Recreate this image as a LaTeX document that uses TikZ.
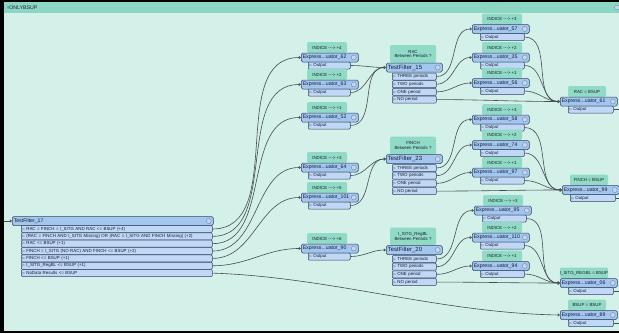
\documentclass[tikz,border=0pt]{standalone}
\usepackage{fontspec}
\setmainfont{Liberation Sans}
\newfontfamily\symfont{DejaVu Sans}
\usetikzlibrary{arrows.meta}
\definecolor{bgmint}{RGB}{211,240,233}
\definecolor{barteal}{RGB}{140,215,196}
\definecolor{annteal}{RGB}{145,218,198}
\definecolor{nodeblue}{RGB}{163,198,238}
\definecolor{portblue}{RGB}{192,216,245}
\definecolor{nodeline}{RGB}{50,68,100}
\definecolor{wiregray}{RGB}{70,76,82}
\definecolor{textdark}{RGB}{25,30,50}
\newcommand{\portmark}{{\symfont\fontsize{3.4}{4}\selectfont ▷}}
\newcommand{\hdrtext}{\fontsize{5.2}{5.5}\selectfont}
\newcommand{\tftext}{\fontsize{6}{6.5}\selectfont}
\newcommand{\smalltext}{\fontsize{4.4}{4.8}\selectfont}
\tikzset{
  ann/.style={fill=annteal, rounded corners=2pt, inner sep=0pt, align=center,
    font=\smalltext, text=textdark},
  hdr/.style={draw=nodeline, fill=nodeblue, rounded corners=1.5pt, anchor=west,
    minimum height=9pt, inner xsep=1.5pt, inner ysep=0pt, align=left,
    font=\hdrtext, text=textdark, line width=0.5pt,
    path picture={\draw[nodeline!70, fill=portblue, line width=0.3pt]
      ([xshift=-4.5pt]path picture bounding box.east) circle (2.5pt);}},
  port/.style={draw=nodeline, fill=portblue, rounded corners=1pt, anchor=west,
    minimum height=7pt, inner xsep=1pt, inner ysep=0pt, align=left,
    font=\smalltext, text=textdark, line width=0.5pt},
  wire/.style={draw=wiregray, line width=0.6pt,
    -{Triangle[open, length=2.2pt, width=3.2pt, fill=portblue]}}
}
\begin{document}
\begin{tikzpicture}[x=1pt,y=-1pt]
\useasboundingbox (0,0) rectangle (619,333);
% draw the frame and the bookmark
\fill[black] (0,0) rectangle (619,333);
\fill[bgmint] (4,2) rectangle (619,331);
\fill[barteal] (4,2) rectangle (619,13);
\node[anchor=west, inner sep=0pt, font=\hdrtext, text=textdark] (title) at (7,7.5) {{\symfont\smalltext ▿}ONLYBSUP};
\draw[nodeline!70, fill=portblue, line width=0.3pt] (617,7.5) circle (2.5pt);

% the first test filter
\node[hdr, text width=198pt] (tf17) at (12,221) {TestFilter\_17};
\node[port, text width=189pt] (tf17r1) at (21,229) {\portmark\ RAC = FINCH = I\_SITG AND RAC <= BSUP (+4)};
\node[port, text width=189pt] (tf17r2) at (21,236.35) {\portmark\ (RAC = FINCH AND I\_SITG Missing) OR (RAC = I\_SITG AND FINCH Missing) (+2)};
\node[port, text width=189pt] (tf17r3) at (21,243.7) {\portmark\ RAC <= BSUP (+1)};
\node[port, text width=189pt] (tf17r4) at (21,251.05) {\portmark\ FINCH = I\_SITG (NO RAC) AND FINCH <= BSUP (+2)};
\node[port, text width=189pt] (tf17r5) at (21,258.4) {\portmark\ FINCH <= BSUP (+1)};
\node[port, text width=189pt] (tf17r6) at (21,265.75) {\portmark\ I\_SITG\_RegBL <= BSUP (+1)};
\node[port, text width=189pt] (tf17r7) at (21,273.1) {\portmark\ NoData Results <= BSUP};

% first column of expressors
\node[ann, minimum width=40pt, minimum height=11pt] (e62a) at (327,47.5) {INDICE -{}-{}-> +4};
\node[hdr, text width=54pt] (e62) at (301,57.5) {Express...uator\_62};
\node[port, text width=40pt] (e62o) at (308,65.5) {\portmark\ Output};
\node[ann, minimum width=40pt, minimum height=11pt] (e63a) at (327,74.5) {INDICE -{}-{}-> +2};
\node[hdr, text width=54pt] (e63) at (301,84.5) {Express...uator\_63};
\node[port, text width=40pt] (e63o) at (308,92.5) {\portmark\ Output};
\node[ann, minimum width=40pt, minimum height=11pt] (e52a) at (327,107.5) {INDICE -{}-{}-> +1};
\node[hdr, text width=54pt] (e52) at (301,117.5) {Express...uator\_52};
\node[port, text width=40pt] (e52o) at (308,125.5) {\portmark\ Output};
\node[ann, minimum width=40pt, minimum height=11pt] (e64a) at (327,157.5) {INDICE -{}-{}-> +3};
\node[hdr, text width=54pt] (e64) at (301,167.5) {Express...uator\_64};
\node[port, text width=40pt] (e64o) at (308,175.5) {\portmark\ Output};
\node[ann, minimum width=40pt, minimum height=11pt] (e101a) at (327,187.5) {INDICE -{}-{}-> +5};
\node[hdr, text width=54pt] (e101) at (301,197.5) {Express...uator\_101};
\node[port, text width=40pt] (e101o) at (308,205.5) {\portmark\ Output};
\node[ann, minimum width=40pt, minimum height=11pt] (e90a) at (327,238.5) {INDICE -{}-{}-> +6};
\node[hdr, text width=54pt] (e90) at (301,248.5) {Express...uator\_90};
\node[port, text width=40pt] (e90o) at (308,256.5) {\portmark\ Output};

% the period test filters
\node[ann, minimum width=46pt, minimum height=18pt] (tf15a) at (413,54) {RAC\\Between Periods ?};
\node[hdr, text width=53pt, font=\tftext] (tf15) at (386,67.5) {TestFilter\_15};
\node[port, text width=42pt] (tf15three) at (392,76.5) {\portmark\ THREE periods};
\node[port, text width=42pt] (tf15two) at (392,84.2) {\portmark\ TWO periods};
\node[port, text width=42pt] (tf15one) at (392,91.9) {\portmark\ ONE period};
\node[port, text width=42pt] (tf15no) at (392,99.6) {\portmark\ NO period};
\node[ann, minimum width=46pt, minimum height=18pt] (tf23a) at (413,145.5) {FINCH\\Between Periods ?};
\node[hdr, text width=53pt, font=\tftext] (tf23) at (386,159) {TestFilter\_23};
\node[port, text width=42pt] (tf23three) at (392,168) {\portmark\ THREE periods};
\node[port, text width=42pt] (tf23two) at (392,175.7) {\portmark\ TWO periods};
\node[port, text width=42pt] (tf23one) at (392,183.4) {\portmark\ ONE period};
\node[port, text width=42pt] (tf23no) at (392,191.1) {\portmark\ NO period};
\node[ann, minimum width=46pt, minimum height=18pt] (tf20a) at (413,236.5) {I\_SITG\_RegBL\\Between Periods ?};
\node[hdr, text width=53pt, font=\tftext] (tf20) at (386,250) {TestFilter\_20};
\node[port, text width=42pt] (tf20three) at (392,259) {\portmark\ THREE periods};
\node[port, text width=42pt] (tf20two) at (392,266.7) {\portmark\ TWO periods};
\node[port, text width=42pt] (tf20one) at (392,274.4) {\portmark\ ONE period};
\node[port, text width=42pt] (tf20no) at (392,282.1) {\portmark\ NO period};

% second column of expressors
\node[ann, minimum width=40pt, minimum height=11pt] (e57a) at (502,19) {INDICE -{}-{}-> +3};
\node[hdr, text width=54pt] (e57) at (472,29) {Express...uator\_57};
\node[port, text width=42pt] (e57o) at (480,37) {\portmark\ Output};
\node[ann, minimum width=40pt, minimum height=11pt] (e35a) at (502,47.5) {INDICE -{}-{}-> +2};
\node[hdr, text width=54pt] (e35) at (472,57.5) {Express...uator\_35};
\node[port, text width=42pt] (e35o) at (480,65.5) {\portmark\ Output};
\node[ann, minimum width=40pt, minimum height=11pt] (e56a) at (502,73) {INDICE -{}-{}-> +1};
\node[hdr, text width=54pt] (e56) at (472,83) {Express...uator\_56};
\node[port, text width=42pt] (e56o) at (480,91) {\portmark\ Output};
\node[ann, minimum width=40pt, minimum height=11pt] (e58a) at (502,109.5) {INDICE -{}-{}-> +3};
\node[hdr, text width=54pt] (e58) at (472,119.5) {Express...uator\_58};
\node[port, text width=42pt] (e58o) at (480,127.5) {\portmark\ Output};
\node[ann, minimum width=40pt, minimum height=11pt] (e74a) at (502,135) {INDICE -{}-{}-> +2};
\node[hdr, text width=54pt] (e74) at (472,145) {Express...uator\_74};
\node[port, text width=42pt] (e74o) at (480,153) {\portmark\ Output};
\node[ann, minimum width=40pt, minimum height=11pt] (e97a) at (502,162.5) {INDICE -{}-{}-> +1};
\node[hdr, text width=54pt] (e97) at (472,172.5) {Express...uator\_97};
\node[port, text width=42pt] (e97o) at (480,180.5) {\portmark\ Output};
\node[ann, minimum width=40pt, minimum height=11pt] (e95a) at (503,200.5) {INDICE -{}-{}-> +3};
\node[hdr, text width=54pt] (e95) at (474,210.5) {Express...uator\_95};
\node[port, text width=42pt] (e95o) at (482,218.5) {\portmark\ Output};
\node[ann, minimum width=40pt, minimum height=11pt] (e110a) at (502,227.5) {INDICE -{}-{}-> +2};
\node[hdr, text width=54pt] (e110) at (472,237.5) {Express...uator\_110};
\node[port, text width=42pt] (e110o) at (480,245.5) {\portmark\ Output};
\node[ann, minimum width=40pt, minimum height=11pt] (e94a) at (502,256) {INDICE -{}-{}-> +1};
\node[hdr, text width=54pt] (e94) at (472,266) {Express...uator\_94};
\node[port, text width=42pt] (e94o) at (480,274) {\portmark\ Output};

% last column of expressors
\node[ann, minimum width=38pt, minimum height=11pt] (e61a) at (587,91.5) {RAC = BSUP};
\node[hdr, text width=54pt] (e61) at (560,101.5) {Express...uator\_61};
\node[port, text width=43pt] (e61o) at (568,109.5) {\portmark\ Output};
\node[ann, minimum width=38pt, minimum height=11pt] (e99a) at (589,180) {FINCH = BSUP};
\node[hdr, text width=54pt] (e99) at (562,190) {Express...uator\_99};
\node[port, text width=43pt] (e99o) at (570,198) {\portmark\ Output};
\node[ann, minimum width=48pt, minimum height=11pt] (e06a) at (584,273) {I\_SITG\_REGBL = BSUP};
\node[hdr, text width=54pt] (e06) at (560,283) {Express...uator\_06};
\node[port, text width=43pt] (e06o) at (568,291) {\portmark\ Output};
\node[ann, minimum width=38pt, minimum height=11pt] (e89a) at (587,305) {BSUP = BSUP};
\node[hdr, text width=54pt] (e89) at (560,315) {Express...uator\_89};
\node[port, text width=43pt] (e89o) at (568,323) {\portmark\ Output};

% the connections
\coordinate (src) at (4,221);
\draw[wire] (src) -- (tf17.west);
\draw[wire] (tf17r1.east) to[out=0,in=180] (e62.west);
\draw[wire] (tf17r2.east) to[out=0,in=180] (e63.west);
\draw[wire] (tf17r3.east) to[out=0,in=180] (e52.west);
\draw[wire] (tf17r4.east) to[out=0,in=180] (e64.west);
\draw[wire] (tf17r5.east) to[out=0,in=180] (e101.west);
\draw[wire] (tf17r6.east) to[out=0,in=180] (e90.west);
\draw[wire] (tf17r7.east) .. controls (330,277) and (440,313) .. (e89.west);
\draw[wire] (e62o.east) to[out=0,in=180] (tf15.west);
\draw[wire] (e63o.east) to[out=0,in=180] (tf15.west);
\draw[wire] (e52o.east) to[out=0,in=180] (tf15.west);
\draw[wire] (e64o.east) to[out=0,in=180] (tf23.west);
\draw[wire] (e101o.east) to[out=0,in=180] (tf23.west);
\draw[wire] (e90o.east) to[out=0,in=180] (tf20.west);
\draw[wire] (tf15three.east) to[out=0,in=180] (e57.west);
\draw[wire] (tf15two.east) to[out=0,in=180] (e35.west);
\draw[wire] (tf15one.east) to[out=0,in=180] (e56.west);
\draw[wire] (tf15no.east) to[out=0,in=180] (e61.west);
\draw[wire] (tf23three.east) to[out=0,in=180] (e58.west);
\draw[wire] (tf23two.east) to[out=0,in=180] (e74.west);
\draw[wire] (tf23one.east) to[out=0,in=180] (e97.west);
\draw[wire] (tf23no.east) to[out=0,in=180] (e99.west);
\draw[wire] (tf20three.east) to[out=0,in=180] (e95.west);
\draw[wire] (tf20two.east) to[out=0,in=180] (e110.west);
\draw[wire] (tf20one.east) to[out=0,in=180] (e94.west);
\draw[wire] (tf20no.east) to[out=0,in=180] (e06.west);
\draw[wire] (e57o.east) to[out=0,in=180] (e61.west);
\draw[wire] (e35o.east) to[out=0,in=180] (e61.west);
\draw[wire] (e56o.east) to[out=0,in=180] (e61.west);
\draw[wire] (e58o.east) to[out=0,in=180] (e99.west);
\draw[wire] (e74o.east) to[out=0,in=180] (e99.west);
\draw[wire] (e97o.east) to[out=0,in=180] (e99.west);
\draw[wire] (e95o.east) to[out=0,in=180] (e06.west);
\draw[wire] (e110o.east) to[out=0,in=180] (e06.west);
\draw[wire] (e94o.east) to[out=0,in=180] (e06.west);
% outputs leave the bookmark
\coordinate (out61) at (624,109.5);
\coordinate (out99) at (624,198);
\coordinate (out06) at (624,291);
\coordinate (out89) at (624,323);
\draw[wire,-] (e61o.east) -- (out61);
\draw[wire,-] (e99o.east) -- (out99);
\draw[wire,-] (e06o.east) -- (out06);
\draw[wire,-] (e89o.east) -- (out89);
\end{tikzpicture}
\end{document}
